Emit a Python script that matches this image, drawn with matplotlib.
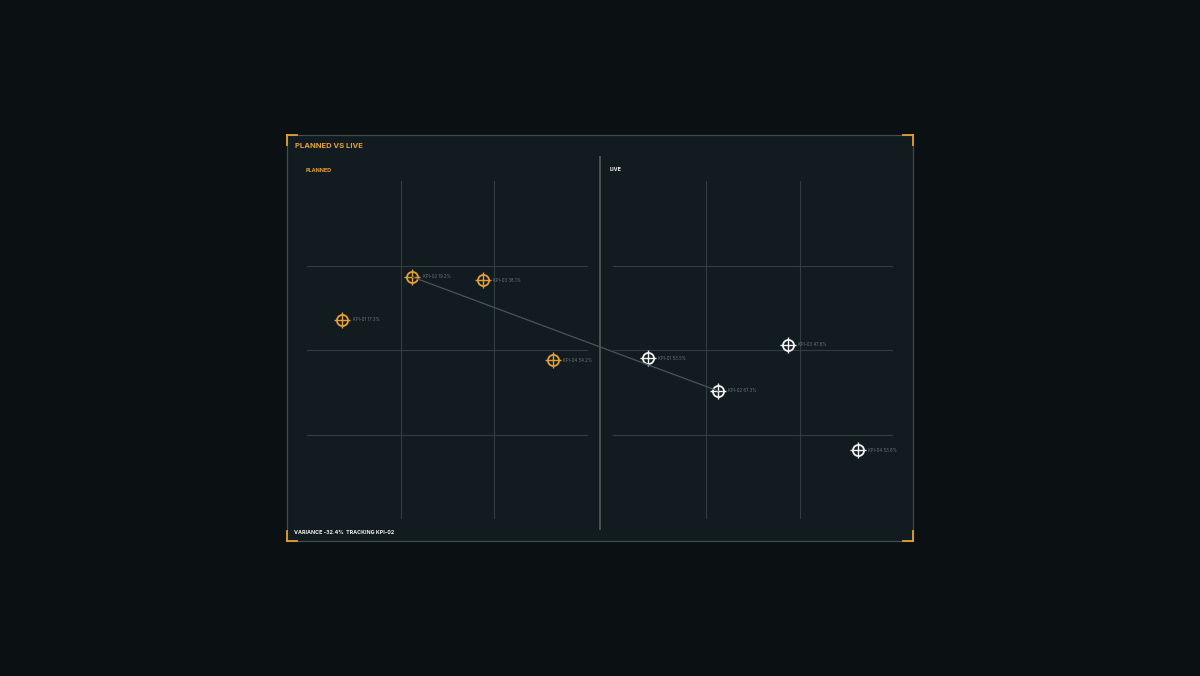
import matplotlib.pyplot as plt
from matplotlib.patches import Rectangle, ConnectionPatch
from matplotlib.lines import Line2D

# data
kpis = ["KPI-01", "KPI-02", "KPI-03", "KPI-04"]
planned_y = [58.9, 71.6, 70.7, 47.0]
live_y = [47.6, 37.9, 51.5, 20.4]
planned_labels = ["KPI-01 17.3%", "KPI-02 19.2%", "KPI-03 38.1%", "KPI-04 54.2%"]
live_labels = ["KPI-01 53.5%", "KPI-02 67.3%", "KPI-03 47.6%", "KPI-04 53.6%"]
tracked = "KPI-02"
footer = "VARIANCE -32.4%  TRACKING KPI-02"

BG = "#0b1012"
PANEL = "#121b20"
GRID = "#303e42"
ORANGE = "#e5a032"
WHITE = "#f2f2f2"
LABEL = "#6b7878"

plt.rcParams['font.family'] = ['Inter', 'DejaVu Sans']

fig = plt.figure(figsize=(12, 6.76), dpi=100)
fig.patch.set_facecolor(BG)

W, H = 1200.0, 676.0


def fx(px):
    return px / W


def fy(py):
    return 1 - py / H


# panel frame
x0, x1, y0, y1 = 287, 913, 135, 541
fig.patches.append(Rectangle((fx(x0), fy(y1)), fx(x1) - fx(x0), fy(y0) - fy(y1),
                             transform=fig.transFigure, facecolor=PANEL,
                             edgecolor="#414d4a", linewidth=0.9, zorder=-5))
# orange corner accents
c = 10
for (cx, cy, dx, dy) in [(x0, y0, 1, 1), (x1, y0, -1, 1), (x0, y1, 1, -1), (x1, y1, -1, -1)]:
    fig.lines.append(Line2D([fx(cx), fx(cx + dx * c)], [fy(cy), fy(cy)],
                            transform=fig.transFigure, color=ORANGE, linewidth=1.3))
    fig.lines.append(Line2D([fx(cx), fx(cx)], [fy(cy), fy(cy + dy * c)],
                            transform=fig.transFigure, color=ORANGE, linewidth=1.3))

# divider between panels
fig.lines.append(Line2D([fx(600), fx(600)], [fy(157), fy(529)],
                        transform=fig.transFigure, color="#46534f", linewidth=1.4))

ax1 = fig.add_axes([fx(307), fy(519), fx(588) - fx(307), fy(181) - fy(519)])
ax2 = fig.add_axes([fx(613), fy(519), fx(893) - fx(613), fy(181) - fy(519)])

xs = list(range(len(kpis)))

for ax, ys, labels, col in [(ax1, planned_y, planned_labels, ORANGE),
                            (ax2, live_y, live_labels, WHITE)]:
    ax.set_facecolor("none")
    ax.set_xlim(-0.5, 3.5)
    ax.set_ylim(0, 100)
    for s in ax.spines.values():
        s.set_visible(False)
    ax.set_xticks([])
    ax.set_yticks([])
    for gx in [-0.5 + 4 / 3, -0.5 + 8 / 3]:
        ax.axvline(gx, color=GRID, linewidth=0.8, zorder=1)
    for gy in [25, 50, 75]:
        ax.axhline(gy, color=GRID, linewidth=0.8, zorder=1)
    ax.plot(xs, ys, linestyle="none", marker="o", markersize=8,
            markerfacecolor="none", markeredgecolor=col, markeredgewidth=1.3, zorder=4)
    ax.plot(xs, ys, linestyle="none", marker="+", markersize=12,
            markeredgecolor=col, markeredgewidth=1.0, zorder=4)
    for x, y, lab in zip(xs, ys, labels):
        ax.annotate(lab, (x, y), xytext=(7.5, 0), textcoords="offset points",
                    color=LABEL, fontsize=3.1, va="center", ha="left", zorder=5)

# tracking line between the two panels
ti = kpis.index(tracked)
con = ConnectionPatch(xyA=(xs[ti], planned_y[ti]), coordsA=ax1.transData,
                      xyB=(xs[ti], live_y[ti]), coordsB=ax2.transData,
                      color="#46565a", linewidth=0.9, zorder=3)
fig.add_artist(con)

fig.text(fx(295), fy(146), "PLANNED VS LIVE", color=ORANGE, fontsize=5.5,
         fontweight="bold", va="center", ha="left")
fig.text(fx(306), fy(170), "PLANNED", color=ORANGE, fontsize=3.9,
         fontweight="bold", va="center", ha="left")
fig.text(fx(610), fy(169.5), "LIVE", color=WHITE, fontsize=3.9,
         fontweight="bold", va="center", ha="left")
fig.text(fx(294), fy(533), footer, color=WHITE, fontsize=3.85,
         fontweight="bold", va="center", ha="left")

fig.savefig("out.png", dpi=100, facecolor=BG)
